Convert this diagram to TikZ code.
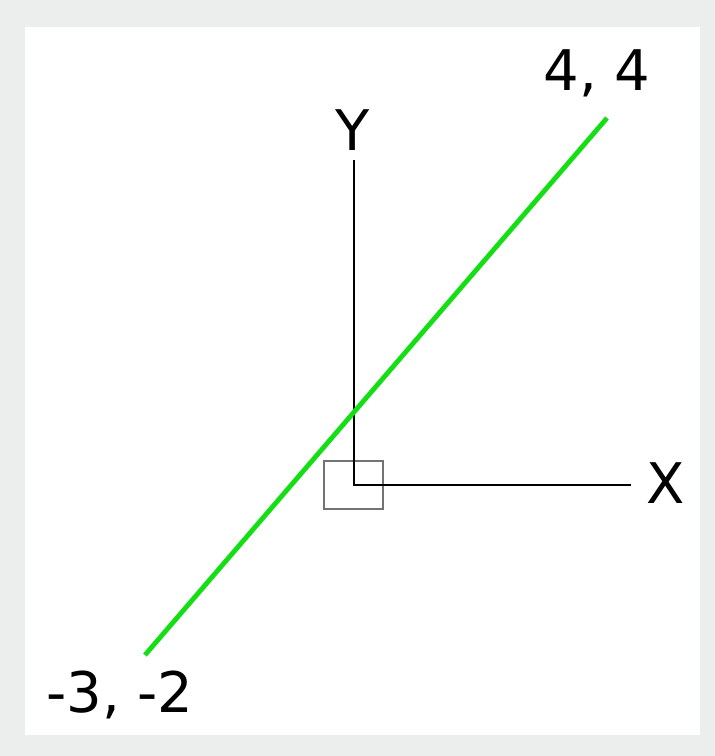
\documentclass[tikz,border=0pt]{standalone}
\usepackage{fontspec}
\setmainfont{DejaVu Sans}
\definecolor{framegray}{RGB}{236, 238, 238}
\definecolor{linegreen}{RGB}{20, 222, 20}
\usetikzlibrary{positioning}

\begin{document}
\begin{tikzpicture}[
    x=1pt, y=-1pt,
    axis/.style={
        draw=black, line width=1.6pt
    },
    segment/.style={
        draw=linegreen, line width=4.8pt
    },
    ucsbox/.style={
        draw=black!55, line width=1.5pt
    },
    lbl/.style={
        font=\fontsize{56}{56}\selectfont, inner sep=0pt, text=black
    }
]

% Frame
\fill[framegray] (0,0) rectangle (715,756);
\fill[white] (25,27) rectangle (700,735);
\useasboundingbox (0,0) rectangle (715,756);

% Axes
\coordinate (origin) at (354,485);
\coordinate (ytip) at (354,160);
\coordinate (xtip) at (631,485);
\draw[ucsbox] (324,461) rectangle (383,509);
\draw[axis] (ytip) -- (origin) -- (xtip);
\node[lbl] (ylabel) at (353,130) {Y};
\node[lbl] (xlabel) at (666,483) {X};

% Line from (-3,-2) to (4,4)
\coordinate (p1) at (145,655);
\coordinate (p2) at (607,118);
\draw[segment] (p1) -- (p2);
\node[lbl] (p1label) at (120,695) {-3, -2};
\node[lbl] (p2label) at (597,73) {4, 4};

\end{tikzpicture}
\end{document}
